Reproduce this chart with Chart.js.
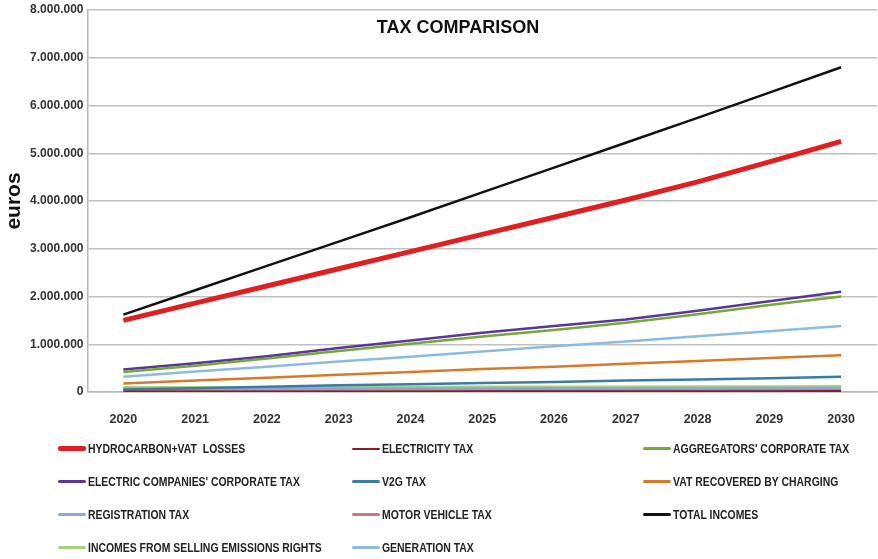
<!DOCTYPE html>
<html>
<head>
<meta charset="utf-8">
<script src="https://cdn.jsdelivr.net/npm/chart.js@4/dist/chart.umd.min.js"></script>
<style>
  body { margin: 0; background: #fff; }
  #wrap { position: relative; width: 878px; height: 559px; overflow: hidden; }
  #chart { position: absolute; left: 0; top: 0; }
  #legend {
    position: absolute; left: 58px; top: 432px; width: 820px;
    display: grid; grid-template-columns: 294px 291px 230px; grid-auto-rows: 33px;
    font: bold 12px "Liberation Sans", sans-serif; color: #222;
  }
  #legend .item { display: flex; align-items: center; white-space: pre; }
  #legend .sw { width: 28px; margin-right: 2px; border-radius: 2px; flex: none; }
  #legend .tx { display: inline-block; transform: scaleX(0.87); transform-origin: left center; }
</style>
</head>
<body>
<div id="wrap">
  <canvas id="chart" width="878" height="451"></canvas>
  <div id="legend"></div>
</div>
<script>
var years = ['2020','2021','2022','2023','2024','2025','2026','2027','2028','2029','2030'];

var hydrocarbonVat = [1500000,1860000,2220000,2580000,2940000,3300000,3660000,4020000,4400000,4820000,5250000];
var electricityTax = [10000,11000,12000,12000,13000,14000,15000,16000,17000,18000,20000];
var aggregatorsTax = [420000,550000,700000,860000,1010000,1160000,1300000,1450000,1630000,1820000,2000000];
var electricCompaniesTax = [470000,600000,750000,920000,1080000,1240000,1380000,1520000,1700000,1900000,2100000];
var v2gTax = [50000,80000,110000,140000,160000,190000,210000,240000,260000,290000,320000];
var vatRecovered = [180000,240000,300000,360000,420000,480000,530000,590000,650000,710000,770000];
var registrationTax = [70000,70000,70000,75000,75000,75000,80000,80000,80000,85000,85000];
var motorVehicleTax = [40000,40000,40000,40000,42000,42000,42000,44000,44000,45000,45000];
var totalIncomes = [1620000,2130000,2640000,3150000,3660000,4180000,4700000,5220000,5740000,6270000,6800000];
var emissionsRights = [100000,100000,100000,105000,105000,110000,110000,110000,115000,115000,120000];
var generationTax = [320000,430000,530000,640000,740000,850000,960000,1060000,1170000,1270000,1380000];

var yTicks = [0,1000000,2000000,3000000,4000000,5000000,6000000,7000000,8000000];

function ds(label, data, color, width) {
  return { label: label, data: data, borderColor: color, backgroundColor: color,
           borderWidth: width, pointRadius: 0, tension: 0, fill: false };
}

var titlePlugin = {
  id: 'plotTitle',
  afterDraw: function(chart) {
    var ctx = chart.ctx;
    ctx.save();
    ctx.font = 'bold 18px "Liberation Sans", sans-serif';
    ctx.fillStyle = '#111';
    ctx.textAlign = 'center';
    ctx.textBaseline = 'middle';
    ctx.fillText('TAX COMPARISON', 458, 28);
    ctx.restore();
  }
};

var chart = new Chart('chart', {
  type: 'line',
  data: {
    labels: years,
    datasets: [
      ds('HYDROCARBON+VAT  LOSSES', hydrocarbonVat, '#e11f1f', 5),
      ds('ELECTRICITY TAX', electricityTax, '#8c1c24', 2),
      ds("AGGREGATORS' CORPORATE TAX", aggregatorsTax, '#76a73a', 2.5),
      ds("ELECTRIC COMPANIES' CORPORATE TAX", electricCompaniesTax, '#5a3796', 2.5),
      ds('V2G TAX', v2gTax, '#3b7ca6', 2.5),
      ds('VAT RECOVERED BY CHARGING', vatRecovered, '#d67a2a', 2.5),
      ds('REGISTRATION TAX', registrationTax, '#8ea6dc', 2.5),
      ds('MOTOR VEHICLE TAX', motorVehicleTax, '#c97a7c', 2.5),
      ds('TOTAL INCOMES', totalIncomes, '#111111', 2.5),
      ds('INCOMES FROM SELLING EMISSIONS RIGHTS', emissionsRights, '#a6d07c', 2.5),
      ds('GENERATION TAX', generationTax, '#8dbbe0', 2.5)
    ]
  },
  options: {
    responsive: false,
    animation: false,
    layout: { padding: { left: 2, right: 1, top: 0, bottom: 12 } },
    plugins: { legend: { display: false }, tooltip: { enabled: false } },
    scales: {
      x: {
        offset: true,
        grid: { display: false, offset: true },
        border: { display: true, color: '#b8b8b8', width: 1.5 },
        ticks: { color: '#333', padding: 12, font: { family: '"Liberation Sans", sans-serif', size: 12.5, weight: 'bold' } }
      },
      y: {
        min: 0, max: 8000000,
        afterBuildTicks: function(axis) { axis.ticks = yTicks.map(function(v) { return { value: v }; }); },
        grid: { color: '#c0c0c0', lineWidth: 1.5, drawTicks: false },
        border: { display: true, color: '#b8b8b8', width: 1.5 },
        ticks: {
          color: '#333', padding: 4,
          font: { family: '"Liberation Sans", sans-serif', size: 12, weight: 'bold', lineHeight: 1 },
          callback: function(v) { return String(v).replace(/\B(?=(\d{3})+(?!\d))/g, '.'); }
        },
        title: { display: true, text: 'euros', color: '#111', padding: { top: 1, bottom: 0 },
                 font: { family: '"Liberation Sans", sans-serif', size: 21, weight: 'bold', lineHeight: 1.1 } }
      }
    }
  },
  plugins: [titlePlugin]
});

// legend in three columns, built from the chart datasets
var legend = document.getElementById('legend');
chart.data.datasets.forEach(function(d) {
  var item = document.createElement('div');
  item.className = 'item';
  var sw = document.createElement('span');
  sw.className = 'sw';
  sw.style.height = Math.max(2, d.borderWidth) + 'px';
  sw.style.background = d.borderColor;
  var tx = document.createElement('span');
  tx.className = 'tx';
  tx.textContent = d.label;
  item.appendChild(sw);
  item.appendChild(tx);
  legend.appendChild(item);
});
</script>
</body>
</html>
